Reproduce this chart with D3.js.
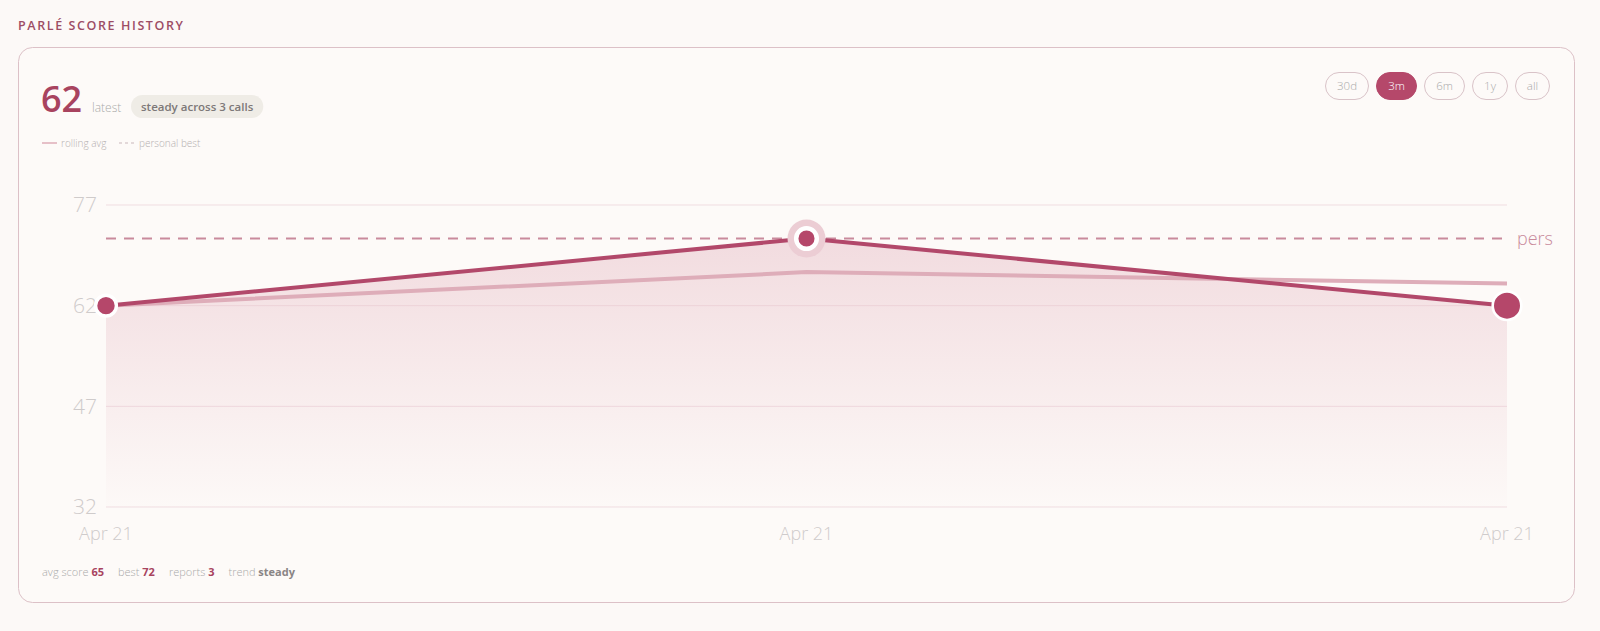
<!DOCTYPE html>
<html>
<head>
<meta charset="utf-8">
<script src="https://cdn.jsdelivr.net/npm/d3@7"></script>
<style>
  html, body { margin: 0; padding: 0; background: #fcf9f7; }
  body { width: 1600px; height: 631px; overflow: hidden; font-family: "Open Sans", "Noto Sans", sans-serif; }
  svg { display: block; }
</style>
</head>
<body>
<div id="chart"></div>
<script>
// chart data
var dates = ["Apr 21", "Apr 21", "Apr 21"];
var scores = [62, 72, 62];
var rolling = [62, 67, 65.3];
var yTicks = [32, 47, 62, 77];
var personalBest = 72;
var bestLabel = "pers";   // label is cut short in the original
var ranges = ["30d", "3m", "6m", "1y", "all"];
var activeRange = "3m";
var statLabels = ["avg score", "best", "reports", "trend"];
var statValues = ["65", "72", "3", "steady"];

var color = { main: "#b2486a", roll: "#deadb9", best: "#c98a9c", grid: "#f0dde1", axis: "#cfcbcb", accent: "#a8435f" };

var W = 1600, H = 631;

var svg = d3.select("#chart").append("svg")
  .attr("width", W)
  .attr("height", H);

/* card + title */
svg.append("text")
  .attr("x", 18).attr("y", 30)
  .style("font-size", "12.5px").style("font-weight", 600)
  .style("letter-spacing", "1.6px")
  .style("fill", "#9d4d65")
  .text("PARLÉ SCORE HISTORY");

svg.append("rect")
  .attr("x", 18.5).attr("y", 47.5)
  .attr("width", 1556).attr("height", 555)
  .attr("rx", 14)
  .style("fill", "#fdfaf8")
  .style("stroke", "#dcc1c7");

/* header */
svg.append("text")
  .attr("x", 41).attr("y", 112)
  .style("font-size", "36px").style("font-weight", 600)
  .style("fill", color.accent)
  .text(scores[scores.length - 1]);

svg.append("text")
  .attr("x", 92).attr("y", 112)
  .style("font-size", "12px").style("font-weight", 300)
  .style("fill", "#aaa")
  .text("latest");

var pill = svg.append("g");
var pillText = pill.append("text")
  .attr("x", 141).attr("y", 111)
  .style("font-size", "11.5px").style("font-weight", 600)
  .style("fill", "#7d7878")
  .text("steady across " + scores.length + " calls");
var pw = pillText.node().getComputedTextLength();
pill.insert("rect", "text")
  .attr("x", 131).attr("y", 95)
  .attr("width", pw + 20).attr("height", 23)
  .attr("rx", 11.5)
  .style("fill", "#efece6");

/* legend */
svg.append("line")
  .attr("x1", 42).attr("x2", 57).attr("y1", 143).attr("y2", 143)
  .style("stroke", color.roll).style("stroke-width", 1.5);
svg.append("text")
  .attr("x", 61).attr("y", 146.5)
  .style("font-size", "10px").style("font-weight", 300).style("fill", "#b5b0b0")
  .text("rolling avg");
svg.append("line")
  .attr("x1", 119).attr("x2", 135).attr("y1", 143).attr("y2", 143)
  .style("stroke", "#c9b5ba").style("stroke-width", 1.2)
  .style("stroke-dasharray", "3,3");
svg.append("text")
  .attr("x", 139).attr("y", 146.5)
  .style("font-size", "10px").style("font-weight", 300).style("fill", "#b5b0b0")
  .text("personal best");

/* range buttons, laid out right to left */
var btns = svg.append("g");
var bx = 1550;
ranges.slice().reverse().forEach(function(r) {
  var g = btns.append("g");
  var t = g.append("text")
    .attr("y", 90)
    .attr("text-anchor", "middle")
    .style("font-size", "11.5px").style("font-weight", 300)
    .style("fill", r === activeRange ? "#fff" : "#aaa")
    .text(r);
  var bw = Math.max(35, Math.round(t.node().getComputedTextLength() + 24));
  bx -= bw;
  t.attr("x", bx + bw / 2);
  g.insert("rect", "text")
    .attr("x", bx + 0.5).attr("y", 72.5)
    .attr("width", bw - 1).attr("height", 27)
    .attr("rx", 13.5)
    .style("fill", r === activeRange ? "#b5486a" : "none")
    .style("stroke", r === activeRange ? "#b5486a" : "#d9c3c8");
  bx -= 7;
});

/* scales */
var xScale = d3.scalePoint()
  .domain(d3.range(dates.length))
  .range([106, 1507]);

var yScale = d3.scaleLinear()
  .domain([32, 77])
  .range([507, 205]);

var defs = svg.append("defs");
var grad = defs.append("linearGradient")
  .attr("id", "fade").attr("x1", 0).attr("x2", 0).attr("y1", 0).attr("y2", 1);
grad.append("stop").attr("offset", "0%").attr("stop-color", "#e9c3cb").attr("stop-opacity", 0.55);
grad.append("stop").attr("offset", "100%").attr("stop-color", "#e9c3cb").attr("stop-opacity", 0.02);

var plot = svg.append("g");

/* grid */
plot.append("g").selectAll("line")
  .data(yTicks).enter()
  .append("line")
  .attr("x1", xScale(0)).attr("x2", xScale(dates.length - 1))
  .attr("y1", d => yScale(d)).attr("y2", d => yScale(d))
  .style("stroke", color.grid).style("stroke-width", 1);

/* area */
var area = d3.area()
  .x((d, i) => xScale(i))
  .y0(yScale(32))
  .y1(d => yScale(d));

plot.append("path")
  .datum(scores)
  .attr("d", area)
  .style("fill", "url(#fade)");

/* y labels */
plot.append("g").selectAll("text")
  .data(yTicks).enter()
  .append("text")
  .attr("x", 97)
  .attr("y", d => yScale(d))
  .attr("dy", "0.35em")
  .attr("text-anchor", "end")
  .style("font-size", "21px").style("font-weight", 300)
  .style("fill", color.axis)
  .text(d => d);

/* personal best */
plot.append("line")
  .attr("x1", xScale(0)).attr("x2", xScale(dates.length - 1))
  .attr("y1", yScale(personalBest)).attr("y2", yScale(personalBest))
  .style("stroke", color.best).style("stroke-width", 2)
  .style("stroke-dasharray", "10,8");

plot.append("text")
  .attr("x", 1517)
  .attr("y", yScale(personalBest))
  .attr("dy", "0.35em")
  .style("font-size", "18px").style("font-weight", 300)
  .style("fill", color.best)
  .text(bestLabel);

/* rolling avg */
var rollLine = d3.line()
  .x((d, i) => xScale(i))
  .y(d => yScale(d));

plot.append("path")
  .datum(rolling)
  .attr("d", rollLine)
  .style("fill", "none")
  .style("stroke", color.roll)
  .style("stroke-width", 4)
  .style("stroke-linejoin", "round");

/* score line */
var line = d3.line()
  .x((d, i) => xScale(i))
  .y(d => yScale(d));

plot.append("path")
  .datum(scores)
  .attr("d", line)
  .style("fill", "none")
  .style("stroke", color.main)
  .style("stroke-width", 4)
  .style("stroke-linejoin", "round");

/* points */
var best = scores.indexOf(d3.max(scores));
var last = scores.length - 1;

plot.append("circle")
  .attr("cx", xScale(best)).attr("cy", yScale(scores[best]))
  .attr("r", 19)
  .style("fill", "#eccdd4");

plot.append("g").selectAll("circle")
  .data(scores).enter()
  .append("circle")
  .attr("cx", (d, i) => xScale(i))
  .attr("cy", d => yScale(d))
  .attr("r", (d, i) => i === last ? 14.3 : (i === best ? 10.3 : 10.4))
  .style("fill", "#b5476a")
  .style("stroke", "#fff")
  .style("stroke-width", (d, i) => i === last ? 2.6 : (i === best ? 4.5 : 3.4));

/* x labels */
plot.append("g").selectAll("text")
  .data(dates).enter()
  .append("text")
  .attr("x", (d, i) => xScale(i))
  .attr("y", 540)
  .attr("text-anchor", "middle")
  .style("font-size", "18px").style("font-weight", 300)
  .style("fill", color.axis)
  .text(d => d);

/* footer stats */
var foot = svg.append("text")
  .attr("x", 42).attr("y", 576)
  .style("font-size", "11px");
statLabels.forEach(function(l, i) {
  foot.append("tspan")
    .attr("dx", i === 0 ? 0 : 14)
    .style("font-weight", 300).style("fill", "#aaa")
    .text(l + " ");
  foot.append("tspan")
    .style("font-weight", 700)
    .style("fill", statValues[i] === "steady" ? "#8a8585" : color.accent)
    .text(statValues[i]);
});
</script>
</body>
</html>
